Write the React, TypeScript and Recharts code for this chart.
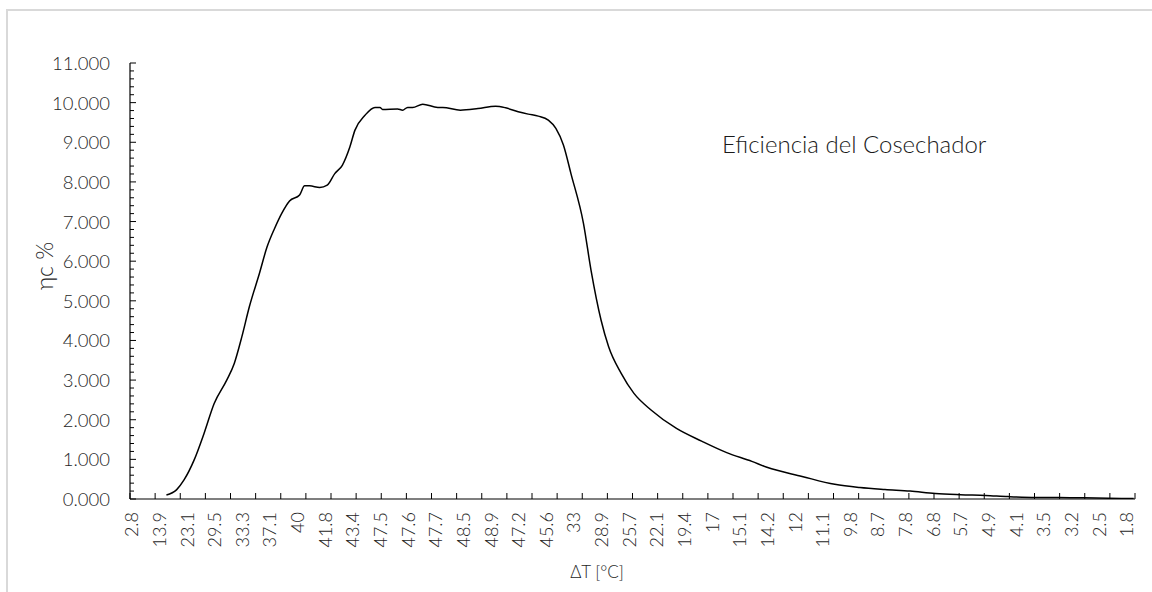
import React from 'react'
import { LineChart, Line, XAxis, YAxis } from 'recharts'

// category labels shown on the x axis (every 11th category of 400)
const tickLabels = [
  '2.8', '13.9', '23.1', '29.5', '33.3', '37.1', '40', '41.8', '43.4', '47.5',
  '47.6', '47.7', '48.5', '48.9', '47.2', '45.6', '33', '28.9', '25.7', '22.1',
  '19.4', '17', '15.1', '14.2', '12', '11.1', '9.8', '8.7', '7.8', '6.8',
  '5.7', '4.9', '4.1', '3.5', '3.2', '2.5', '1.8',
]

// category index of each read sample
const sampleIndex = [
  14, 18, 21, 25, 29, 33, 38, 41, 44, 47,
  51, 54, 57, 60, 63, 67, 69, 71, 75, 78,
  81, 84, 87, 89, 93, 97, 99, 100, 106, 108,
  110, 112, 116, 122, 124, 131, 138, 145, 149, 154,
  158, 162, 166, 169, 172, 175, 180, 183, 187, 190,
  195, 200, 207, 217, 227, 237, 247, 253,
  267, 280, 290, 300, 310, 320, 330, 340, 349, 360,
  369, 379, 389, 399,
]

// ηc % at each sample
const efficiency = [
  0.10, 0.23, 0.48, 0.98, 1.66, 2.41, 3.00, 3.42, 4.09, 4.85,
  5.69, 6.35, 6.82, 7.22, 7.52, 7.67, 7.90, 7.90, 7.86, 7.92,
  8.21, 8.42, 8.88, 9.30, 9.68, 9.88, 9.88, 9.83, 9.84, 9.81,
  9.88, 9.88, 9.96, 9.88, 9.88, 9.81, 9.85, 9.91, 9.87, 9.77,
  9.71, 9.66, 9.56, 9.35, 8.93, 8.21, 6.95, 5.77, 4.51, 3.84,
  3.17, 2.67, 2.24, 1.78, 1.46, 1.17, 0.95, 0.80,
  0.57, 0.37, 0.29, 0.24, 0.20, 0.14, 0.11, 0.09, 0.06, 0.04,
  0.04, 0.03, 0.02, 0.01,
]

const CATEGORY_COUNT = 400
const LABEL_EVERY = 11
const MARK_EVERY = 10

const data = sampleIndex.map((idx, i) => ({ idx, eta: efficiency[i] }))

const xTicks: number[] = []
for (let k = 0; k * MARK_EVERY <= CATEGORY_COUNT; k++) xTicks.push(k * MARK_EVERY - 0.5)
tickLabels.forEach((_, j) => xTicks.push(j * LABEL_EVERY))

const yTicks: number[] = []
for (let k = 0; k <= 55; k++) yTicks.push(k / 5)

const FONT = 'Lato, "Open Sans", sans-serif'
const TEXT = '#262626'

function XTick(props: any) {
  const { x, y, payload } = props
  const v = payload.value
  if (v % 1 !== 0) {
    return <line x1={x} x2={x} y1={y} y2={y - 6} stroke="#000" strokeWidth={1} />
  }
  const label = tickLabels[Math.round(v / LABEL_EVERY)]
  const ty = y + 13
  return (
    <text
      x={x}
      y={ty}
      transform={`rotate(-90, ${x}, ${ty})`}
      textAnchor="end"
      dominantBaseline="central"
      fontFamily={FONT}
      fontWeight={300}
      fontSize={18}
      fill={TEXT}
    >
      {label}
    </text>
  )
}

function YTick(props: any) {
  const { x, y, payload } = props
  const v = payload.value
  const major = Math.abs(v - Math.round(v)) < 1e-6
  if (!major) {
    return <line x1={x} x2={x + 4} y1={y} y2={y} stroke="#000" strokeWidth={1} />
  }
  return (
    <g>
      <line x1={x} x2={x + 6} y1={y} y2={y} stroke="#000" strokeWidth={1} />
      <text
        x={x - 20}
        y={y}
        textAnchor="end"
        dominantBaseline="central"
        fontFamily={FONT}
        fontWeight={300}
        fontSize={18.5}
        fill={TEXT}
      >
        {v.toFixed(3)}
      </text>
    </g>
  )
}

export default function App() {
  return (
    <div style={{ position: 'absolute', left: 0, top: 0, width: 1152, height: 592, overflow: 'hidden', background: '#fff' }}>
      <div style={{ position: 'absolute', left: 6, top: 9, width: 1300, height: 800, border: '2px solid #d9d9d9' }} />
      <div style={{ position: 'absolute', left: 0, top: 0 }}>
        <LineChart width={1152} height={592} data={data} margin={{ top: 63, right: 17, left: 0, bottom: 0 }}>
          <XAxis
            dataKey="idx"
            type="number"
            domain={[-0.5, CATEGORY_COUNT - 0.5]}
            ticks={xTicks}
            interval={0}
            height={93}
            tickLine={false}
            tickSize={0}
            tickMargin={0}
            axisLine={{ stroke: '#000', strokeWidth: 1.2 }}
            tick={XTick}
            allowDataOverflow
          />
          <YAxis
            type="number"
            domain={[0, 11]}
            ticks={yTicks}
            interval={0}
            width={130}
            tickLine={false}
            tickSize={0}
            tickMargin={0}
            axisLine={{ stroke: '#000', strokeWidth: 1.2 }}
            tick={YTick}
            allowDataOverflow
          />
          <Line
            type="monotone"
            dataKey="eta"
            stroke="#000"
            strokeWidth={1.5}
            dot={false}
            isAnimationActive={false}
          />
        </LineChart>
      </div>
      <svg width={1152} height={592} style={{ position: 'absolute', left: 0, top: 0, pointerEvents: 'none' }}>
        <text x={722} y={153} fontFamily={FONT} fontWeight={300} fontSize={24} fill="#1a1a1a">
          Eficiencia del Cosechador
        </text>
        <text x={597} y={578} textAnchor="middle" fontFamily={FONT} fontWeight={300} fontSize={17} fill={TEXT}>
          ΔT [°C]
        </text>
        <text
          x={44}
          y={266}
          transform="rotate(-90, 44, 266)"
          textAnchor="middle"
          dominantBaseline="central"
          fontFamily={FONT}
          fontWeight={300}
          fontSize={23}
          fill={TEXT}
        >
          ηc %
        </text>
      </svg>
    </div>
  )
}
